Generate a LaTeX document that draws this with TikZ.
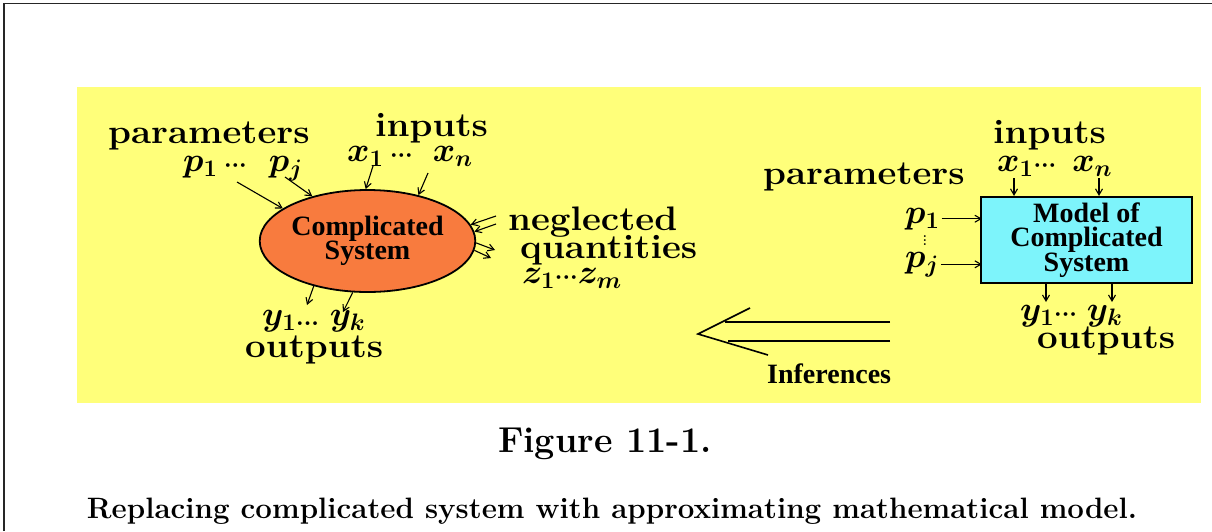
\RequirePackage{fix-cm}
\documentclass[tikz,border=0pt]{standalone}
\usepackage{fontspec}
\usepackage{graphicx}
\newfontfamily\tbf{Liberation Serif}
\usetikzlibrary{arrows.meta,shapes.geometric,calc}
\definecolor{yel}{HTML}{FFFF7A}
\definecolor{org}{HTML}{F87B3E}
\definecolor{cya}{HTML}{7DF4FB}
\newcommand{\W}[1]{\scalebox{1.08}[1]{#1}}
\tikzset{
  lbl/.style={font=\fontsize{34}{40}\selectfont\bfseries\boldmath, inner sep=0pt, anchor=base west},
  tlbl/.style={font=\tbf\fontsize{28}{24.5}\selectfont\bfseries, align=center},
  arr/.style={line width=1.1pt, -{Straight Barb[length=6pt,width=7pt]}},
  inf/.style={line width=1.6pt},
  captxt/.style={inner sep=0pt, anchor=base},
}
\begin{document}
\begin{tikzpicture}[x=1pt,y=-1pt]
\useasboundingbox (0,0) rectangle (1212,531);
\fill[white] (0,0) rectangle (1212,531);
\draw[line width=1.5pt, black!85] (4,531) -- (4,3.5) -- (1212,3.5);
\fill[yel] (77,87) rectangle (1201,403);

% ---- left: complicated system ----
\node[ellipse, draw, line width=1.8pt, fill=org, minimum width=205pt, minimum height=102pt, inner sep=0pt, tlbl] (sys) at (367.5,241) {Complicated\\System};
\node[lbl] (par1) at (108,143) {\W{parameters}};
\node[lbl] (inp1) at (375,136) {\W{inputs}};
\node[lbl] (pj1) at (183,171) {$p_1\,{\scriptstyle\cdots}\hspace{22pt}p_j$};
\node[lbl] (xn1) at (347,161) {$x_1\,{\scriptstyle\cdots}\hspace{20pt}x_n$};
\node[lbl] (neg) at (508,230) {\W{neglected}};
\node[lbl] (qua) at (520,258) {\W{quantities}};
\node[lbl] (zm) at (522,283) {$z_1{\scriptstyle\cdots}z_m$};
\node[lbl] (yk1) at (262,325) {$y_1{\scriptstyle\ldots}\;y_k$};
\node[lbl] (out1) at (245,357) {\W{outputs}};

\coordinate (a1) at (237,182);
\coordinate (a2) at (285,177);
\coordinate (a3) at (373,166);
\coordinate (a4) at (428,173);
\coordinate (a5) at (496,216);
\coordinate (a6) at (496,224);
\coordinate (a7) at (495,250);
\coordinate (a8) at (491,258);
\coordinate (a9) at (307,305);
\coordinate (a10) at (343,312);
\draw[arr] (a1) -- (sys.159.4);
\draw[arr] (a2) -- (sys.141.3);
\draw[arr] (a3) -- (sys.92.7);
\draw[arr] (a4) -- (sys.42.9);
\draw[arr] (a5) -- (sys.9.6);
\draw[arr] (a6) -- (sys.5);
\draw[arr] (sys.-1.6) -- (a7);
\draw[arr] (sys.-5) -- (a8);
\draw[arr] (sys.220) -- (a9);
\draw[arr] (sys.254) -- (a10);

% ---- right: model ----
\node[draw, line width=2.2pt, fill=cya, minimum width=211pt, minimum height=86pt, inner sep=0pt, tlbl] (box) at (1086.5,240) {Model of\\Complicated\\System};
\node[lbl] (inp2) at (993,143) {\W{inputs}};
\node[lbl] (xn2) at (997,171) {$x_1{\scriptstyle\cdots}\hspace{16pt}x_n$};
\node[lbl] (par2) at (763,184) {\W{parameters}};
\node[lbl] (p1) at (905,223) {$p_1$};
\node[lbl] (pj2) at (905,267) {$p_j$};
\node[inner sep=0pt, font=\fontsize{13}{13}\selectfont\bfseries] (vd) at (925,238) {$\vdots$};
\node[lbl] (yk2) at (1020,320) {$y_1{\scriptstyle\cdots}\hspace{10pt}y_k$};
\node[lbl] (out2) at (1037,348) {\W{outputs}};

\draw[arr] ([xshift=2pt]p1.east) -- ([xshift=2pt]p1.east -| box.west);
\draw[arr] ([xshift=2pt]pj2.east) -- ([xshift=2pt]pj2.east -| box.west);
\coordinate (b1) at (1014,178);
\coordinate (b2) at (1099,178);
\coordinate (b3) at (1046,302);
\coordinate (b4) at (1112,302);
\draw[arr] (b1) -- (b1 |- box.north);
\draw[arr] (b2) -- (b2 |- box.north);
\draw[arr] (b3 |- box.south) -- (b3);
\draw[arr] (b4 |- box.south) -- (b4);

% ---- inferences arrow ----
\coordinate (ft) at (890,322);
\coordinate (fb) at (890,341);
\coordinate (tl) at (725,322);
\coordinate (tb) at (728,341);
\coordinate (tip) at (698,334);
\coordinate (bu) at (750,308);
\coordinate (bl) at (768,355);
\draw[inf] (ft) -- (tl);
\draw[inf] (fb) -- (tb);
\draw[inf] (bu) -- (tip) -- (bl);
\node[tlbl, inner sep=0pt, anchor=base west] (infl) at (767,383) {Inferences};

% ---- caption ----
\node[captxt, font=\fontsize{36}{42}\selectfont\bfseries] (fig) at (605,452) {Figure 11-1.};
\node[captxt, font=\fontsize{29.5}{34}\selectfont\bfseries] (capt) at (612,518) {Replacing complicated system with approximating mathematical model.};
\end{tikzpicture}
\end{document}
